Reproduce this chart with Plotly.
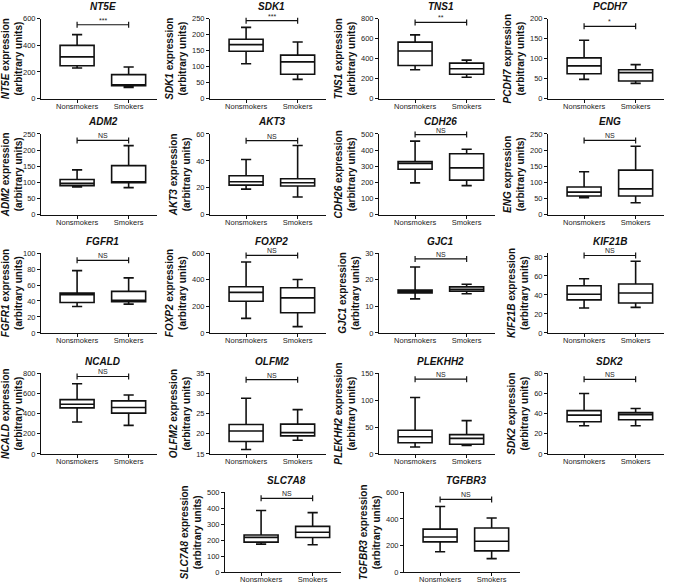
import plotly.graph_objects as go

groups = ["Nonsmokers", "Smokers"]
genes = ["NT5E", "SDK1", "TNS1", "PCDH7",
         "ADM2", "AKT3", "CDH26", "ENG",
         "FGFR1", "FOXP2", "GJC1", "KIF21B",
         "NCALD", "OLFM2", "PLEKHH2", "SDK2",
         "SLC7A8", "TGFBR3"]

non_lower  = [230, 109, 289, 48, 86, 19.0, 197, 53, 33, 109, 12.8, 26.2, 317, 16.1, 13, 28, 176, 153]
non_q1     = [247, 148, 332, 62, 90, 22.0, 282, 58, 38, 238, 15.0, 34.8, 457, 18.1, 21, 32, 188, 228]
non_median = [313, 169, 477, 82, 97, 24.5, 317, 70, 48, 305, 15.5, 40.7, 493, 20.7, 32, 38.5, 218, 264]
non_q3     = [400, 186, 566, 102, 109, 29.0, 329, 86, 50, 347, 16.1, 49.7, 539, 22.3, 44, 43, 233, 324]
non_upper  = [481, 223, 638, 146, 139, 41.0, 456, 133, 78, 533, 24.8, 57.0, 696, 28.8, 105, 60, 387, 494]

smk_lower  = [84, 60, 214, 38, 84, 13.2, 180, 37, 36, 47, 14.7, 26.9, 284, 18.4, 16, 28, 172, 102]
smk_q1     = [96, 76, 243, 44, 99, 21.3, 214, 58, 39, 151, 15.7, 31.4, 405, 19.5, 18, 34, 217, 160]
smk_median = [104, 115, 299, 65, 102, 23.8, 290, 80, 41, 263, 16.4, 42.0, 461, 20.3, 29, 39, 250, 232]
smk_q3     = [180, 136, 355, 72, 152, 26.7, 378, 138, 52, 340, 17.3, 51.4, 526, 22.4, 36, 41, 287, 332]
smk_upper  = [237, 177, 385, 85, 214, 51.4, 405, 212, 69, 402, 18.3, 75.5, 585, 26.0, 62, 45, 373, 407]

y_min   = [0, 0, 0, 0, 0, 0, 0, 0, 0, 0, 0, 0, 0, 15, 0, 0, 0, 0]
y_max   = [600, 250, 800, 200, 250, 60, 500, 250, 100, 600, 30, 84, 800, 35, 150, 80, 500, 600]
y_dtick = [200, 50, 200, 50, 50, 20, 100, 50, 20, 200, 10, 20, 200, 5, 50, 20, 100, 200]

sig_labels = ["***", "***", "**", "*"] + ["NS"] * 14
bracket_y  = [555, 244, 763, 181, 230, 55, 496, 230, 91, 583, 27.8, 81.5, 768, 33.4, 139, 74, 463, 547]

# ---- layout geometry (pixels) ----
W, H = 675, 587
col_x = [41, 210, 379, 548]
row_y = [(15, 96), (132, 214), (253, 334), (375, 457), (496, 577)]
plot_w = 116
positions = []
for r in range(4):
    for c in range(4):
        positions.append((col_x[c], row_y[r]))
positions.append((225, row_y[4]))
positions.append((404, row_y[4]))

XR = [-0.7, 1.55]
FONT = "Liberation Sans, Arial, sans-serif"
INK = "#111111"

fig = go.Figure()
shapes = []
annotations = []

for i, g in enumerate(genes):
    n = i + 1
    xa = "x" if n == 1 else f"x{n}"
    ya = "y" if n == 1 else f"y{n}"
    fig.add_trace(go.Box(
        x=groups,
        q1=[non_q1[i], smk_q1[i]],
        median=[non_median[i], smk_median[i]],
        q3=[non_q3[i], smk_q3[i]],
        lowerfence=[non_lower[i], smk_lower[i]],
        upperfence=[non_upper[i], smk_upper[i]],
        xaxis=xa, yaxis=ya,
        fillcolor="white",
        line=dict(color=INK, width=1.6),
        whiskerwidth=0.3, width=0.66,
        boxpoints=False, showlegend=False, hoverinfo="skip",
    ))
    left, (top, bottom) = positions[i]
    xdom = [left / W, (left + plot_w) / W]
    ydom = [1 - bottom / H, 1 - top / H]
    xkey = "xaxis" if n == 1 else f"xaxis{n}"
    ykey = "yaxis" if n == 1 else f"yaxis{n}"
    fig.layout[xkey] = dict(
        domain=xdom, anchor=ya, type="category", range=XR,
        showline=True, linecolor=INK, linewidth=1,
        ticks="outside", ticklen=3, tickcolor=INK, tickwidth=1,
        ticklabelstandoff=-3,
        tickfont=dict(family=FONT, size=7.5, color="#222"),
        showgrid=False, zeroline=False, fixedrange=True,
    )
    fig.layout[ykey] = dict(
        domain=ydom, anchor=xa, range=[y_min[i], y_max[i]],
        tick0=y_min[i], dtick=y_dtick[i],
        showline=True, linecolor=INK, linewidth=1,
        ticks="outside", ticklen=3, tickcolor=INK, tickwidth=1,
        tickfont=dict(family=FONT, size=7.5, color="#222"),
        showgrid=False, zeroline=False, fixedrange=True,
        title=dict(
            text=f"<b><i>{g}</i> expression<br>(arbitrary units)</b>",
            font=dict(family=FONT, size=10, color=INK),
            standoff=3,
        ),
    )
    # panel title
    annotations.append(dict(
        text=f"<b><i>{g}</i></b>", xref=xa, yref=f"{ya} domain",
        x=0.5, y=1, yshift=12, yanchor="middle", xanchor="center",
        showarrow=False, font=dict(family=FONT, size=10, color=INK),
    ))
    # significance bracket
    f0 = (0 - XR[0]) / (XR[1] - XR[0])
    f1 = (1 - XR[0]) / (XR[1] - XR[0])
    fy = (bracket_y[i] - y_min[i]) / (y_max[i] - y_min[i])
    xr_dom = f"{xa} domain"
    yr_dom = f"{ya} domain"
    shapes.append(dict(type="line", xref=xr_dom, yref=yr_dom,
                       x0=f0, x1=f1, y0=fy, y1=fy,
                       line=dict(color=INK, width=1.2)))
    for fx in (f0, f1):
        shapes.append(dict(type="line", xref=xr_dom, yref=yr_dom,
                           ysizemode="pixel", yanchor=fy, y0=-3, y1=3,
                           x0=fx, x1=fx, line=dict(color=INK, width=1.2)))
    annotations.append(dict(
        text=sig_labels[i], xref=xa, yref=yr_dom,
        x=0.5, y=fy, yanchor="bottom", xanchor="center", yshift=-1,
        showarrow=False, font=dict(family=FONT, size=7, color="#222"),
    ))

fig.update_layout(
    width=W, height=H,
    margin=dict(l=0, r=0, t=0, b=0),
    paper_bgcolor="white", plot_bgcolor="white",
    shapes=shapes, annotations=annotations,
    showlegend=False,
)

fig.write_html("out.html",
               config={"displayModeBar": False, "staticPlot": True},
               post_script="document.body.style.margin='0';document.body.style.overflow='hidden';")
